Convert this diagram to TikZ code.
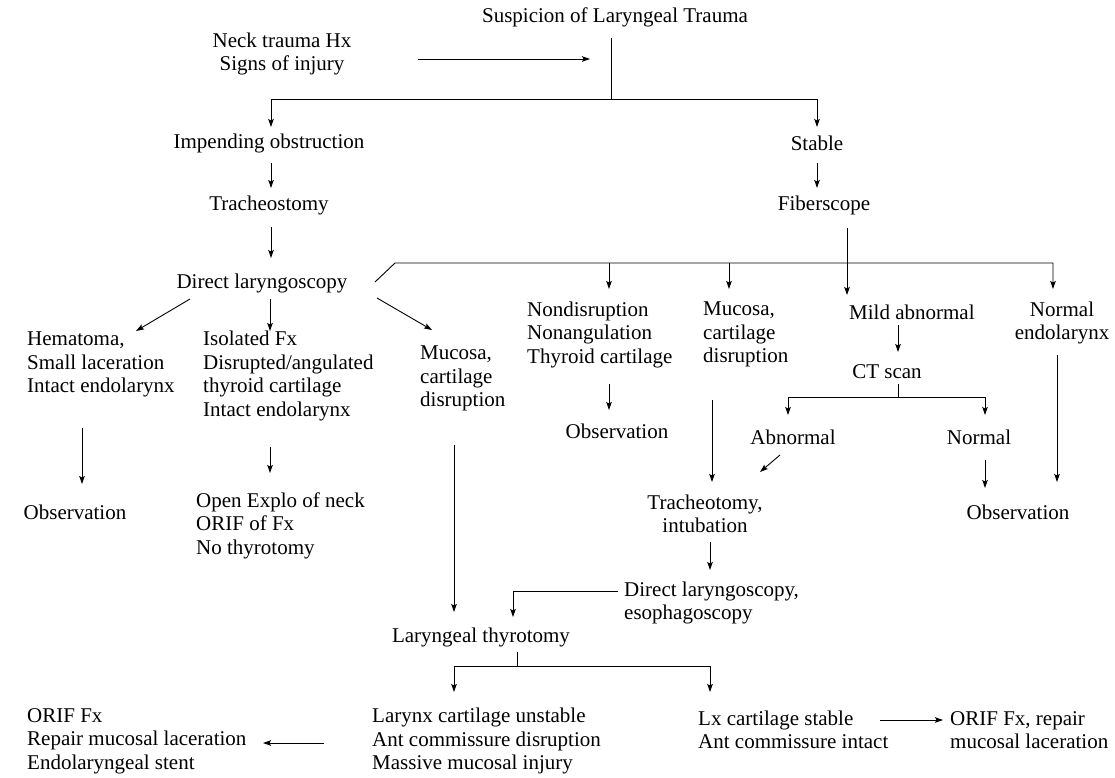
\documentclass[tikz,border=0pt]{standalone}
\usepackage{fontspec}
\setmainfont{Liberation Serif}
\usetikzlibrary{arrows.meta,calc}
\begin{document}
\begin{tikzpicture}[x=1pt,y=-1pt,
  txt/.style={font=\fontsize{21}{23.5}\selectfont, inner sep=0pt, align=center},
  lblock/.style={txt, align=left, anchor=west},
  ln/.style={line width=0.9pt},
  arr/.style={line width=0.9pt, -{Stealth[length=8pt,width=5.5pt,inset=1.5pt]}}]
\fill[white] (0,0) rectangle (1115,778);
\useasboundingbox (0,0) rectangle (1115,778);

% ---------- nodes ----------
\node[txt] (title) at (615,17) {Suspicion of Laryngeal Trauma};
\node[txt] (neck) at (282,54) {Neck trauma Hx\\Signs of injury};
\node[txt] (imp) at (269,143) {Impending obstruction};
\node[txt] (trach) at (269,205) {Tracheostomy};
\node[txt] (dl) at (262,283) {Direct laryngoscopy};
\node[txt] (stable) at (817,143) {Stable};
\node[txt] (fiber) at (824,205) {Fiberscope};
\node[lblock] (hem) at (27,364.5) {Hematoma,\\Small laceration\\Intact endolarynx};
\node[lblock] (iso) at (203,376) {Isolated Fx\\Disrupted/angulated\\thyroid cartilage\\Intact endolarynx};
\node[lblock] (mucL) at (420,378.5) {Mucosa,\\cartilage\\disruption};
\node[lblock] (nond) at (527,334.5) {Nondisruption\\Nonangulation\\Thyroid cartilage};
\node[lblock] (mucR) at (703,334.5) {Mucosa,\\cartilage\\disruption};
\node[lblock] (mild) at (849,312) {Mild abnormal};
\node[txt] (normE) at (1062,323) {Normal\\endolarynx};
\node[txt] (obsL) at (75,512) {Observation};
\node[lblock] (open) at (196,525.5) {Open Explo of neck\\ORIF of Fx\\No thyrotomy};
\node[txt] (obsM) at (617,431) {Observation};
\node[txt] (ct) at (887,372) {CT scan};
\node[txt] (abn) at (793,437) {Abnormal};
\node[txt] (nor) at (979,437) {Normal};
\node[txt] (obsR) at (1018,512) {Observation};
\node[txt] (tt) at (705,514) {Tracheotomy,\\intubation};
\node[lblock] (dlb) at (624,603) {Direct laryngoscopy,\\esophagoscopy};
\node[txt] (lt) at (481,637) {Laryngeal thyrotomy};
\node[lblock] (unst) at (372,741) {Larynx cartilage unstable\\Ant commissure disruption\\Massive mucosal injury};
\node[lblock] (stab) at (698,730) {Lx cartilage stable\\Ant commissure intact};
\node[lblock] (orifL) at (27,741) {ORIF Fx\\Repair mucosal laceration\\Endolaryngeal stent};
\node[lblock] (orifR) at (950,730) {ORIF Fx, repair\\mucosal laceration};

% ---------- connector points ----------
\coordinate (nk1) at (418,59);   \coordinate (nk2) at (590,59);
\coordinate (ts) at (611,38);    \coordinate (j1) at (611,99);
\coordinate (impIn) at (271,127); \coordinate (stIn) at (817,127);
\coordinate (e1) at (271,163);   \coordinate (e2) at (271,188);
\coordinate (f1) at (817,163);   \coordinate (f2) at (817,188);
\coordinate (g1) at (271,227);   \coordinate (g2) at (271,258);
\coordinate (d1) at (190,299);   \coordinate (d2) at (136,331);
\coordinate (d3) at (270,299);   \coordinate (d4) at (270,331);
\coordinate (d5) at (377,298);   \coordinate (d6) at (432,330);
\coordinate (k0) at (375,282);   \coordinate (k1) at (395,263);
\coordinate (k2) at (1053,263);  \coordinate (k3) at (1053,289);
\coordinate (kN) at (609,263);   \coordinate (kN2) at (609,289);
\coordinate (kM) at (729,263);   \coordinate (kM2) at (729,289);
\coordinate (fb1) at (847,228);  \coordinate (fb2) at (847,295);
\coordinate (h1) at (82,428);    \coordinate (h2) at (82,484);
\coordinate (i1) at (270,447);   \coordinate (i2) at (270,473);
\coordinate (m1) at (454,445);   \coordinate (m2) at (454,612);
\coordinate (n1) at (609,384);   \coordinate (n2) at (609,410);
\coordinate (r1) at (712,400);   \coordinate (r2) at (712,482);
\coordinate (c1) at (898,325);   \coordinate (c2) at (898,352);
\coordinate (c3) at (898,384);   \coordinate (c4) at (898,397);
\coordinate (aIn) at (788,415);  \coordinate (nIn) at (985,415);
\coordinate (a1) at (780,455);   \coordinate (a2) at (760,472);
\coordinate (o1) at (985,460);   \coordinate (o2) at (985,488);
\coordinate (q1) at (1057,355);  \coordinate (q2) at (1057,482);
\coordinate (t1) at (710,542);   \coordinate (t2) at (710,570);
\coordinate (u1) at (618,591);   \coordinate (u2) at (513,617);
\coordinate (s1) at (517,652);   \coordinate (s2) at (517,666);
\coordinate (sL) at (454,692);   \coordinate (sR) at (710,692);
\coordinate (w1) at (324,743);   \coordinate (w2) at (263,743);
\coordinate (v1) at (880,720);   \coordinate (v2) at (943,720);

% ---------- connectors ----------
\draw[arr] (nk1) -- (nk2);
\draw[ln] (ts) -- (j1);
\draw[arr] (j1) -| (impIn);
\draw[arr] (j1) -| (stIn);
\draw[arr] (e1) -- (e2);
\draw[arr] (f1) -- (f2);
\draw[arr] (g1) -- (g2);
\draw[arr] (d1) -- (d2);
\draw[arr] (d3) -- (d4);
\draw[arr] (d5) -- (d6);
\draw[arr] (k0) -- (k1) -- (k2) -- (k3);
\draw[arr] (kN) -- (kN2);
\draw[arr] (kM) -- (kM2);
\draw[arr] (fb1) -- (fb2);
\draw[arr] (h1) -- (h2);
\draw[arr] (i1) -- (i2);
\draw[arr] (m1) -- (m2);
\draw[arr] (n1) -- (n2);
\draw[arr] (r1) -- (r2);
\draw[arr] (c1) -- (c2);
\draw[ln] (c3) -- (c4);
\draw[arr] (c4) -| (aIn);
\draw[arr] (c4) -| (nIn);
\draw[arr] (a1) -- (a2);
\draw[arr] (o1) -- (o2);
\draw[arr] (q1) -- (q2);
\draw[arr] (t1) -- (t2);
\draw[arr] (u1) -| (u2);
\draw[ln] (s1) -- (s2);
\draw[arr] (s2) -| (sL);
\draw[arr] (s2) -| (sR);
\draw[arr] (w1) -- (w2);
\draw[arr] (v1) -- (v2);
\end{tikzpicture}
\end{document}
